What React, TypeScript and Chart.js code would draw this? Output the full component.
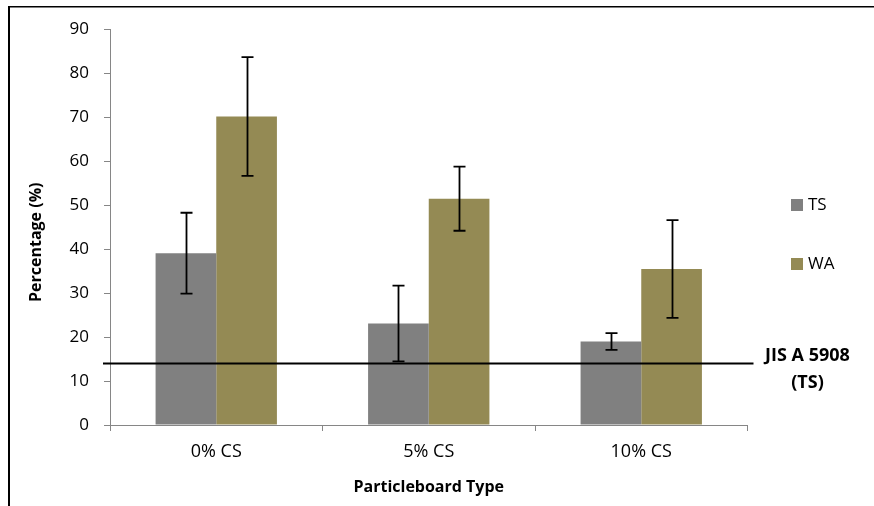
import React, { useEffect, useRef } from "react";
import { Chart, registerables } from "chart.js";

Chart.register(...registerables);

const categories = ["0% CS", "5% CS", "10% CS"];
const tsValues = [39.1, 23.1, 19.0];
const tsErrors = [9.2, 8.6, 1.9];
const waValues = [70.2, 51.5, 35.5];
const waErrors = [13.5, 7.3, 11.1];
const seriesNames = ["TS", "WA"];
const seriesColors = ["#808080", "#948A54"];
const standardValue = 14;
const standardLabel = ["JIS A 5908", "(TS)"];
const yTitle = "Percentage (%)";
const xTitle = "Particleboard Type";
const yMin = 0;
const yMax = 90;
const yStep = 10;

const FONT = "'Open Sans', 'DejaVu Sans', sans-serif";

const overlayPlugin = {
  id: "overlay",
  beforeDraw(chart: any) {
    const ctx = chart.ctx;
    ctx.save();
    ctx.fillStyle = "#ffffff";
    ctx.fillRect(0, 0, chart.width, chart.height);
    ctx.restore();
  },
  afterDatasetsDraw(chart: any) {
    const ctx = chart.ctx;
    const yScale = chart.scales.y;
    const errs = [tsErrors, waErrors];
    const vals = [tsValues, waValues];
    ctx.save();
    const ly = yScale.getPixelForValue(standardValue);
    ctx.strokeStyle = "#000000";
    ctx.lineWidth = 2;
    ctx.beginPath();
    ctx.moveTo(chart.chartArea.left - 7, ly);
    ctx.lineTo(chart.chartArea.right + 6, ly);
    ctx.stroke();
    ctx.lineWidth = 1.8;
    for (let d = 0; d < 2; d++) {
      const meta = chart.getDatasetMeta(d);
      meta.data.forEach((bar: any, i: number) => {
        const x = Math.round(bar.x) + 0.5;
        const yTop = yScale.getPixelForValue(vals[d][i] + errs[d][i]);
        const yBot = yScale.getPixelForValue(vals[d][i] - errs[d][i]);
        ctx.beginPath();
        ctx.moveTo(x, yTop);
        ctx.lineTo(x, yBot);
        ctx.moveTo(x - 6, yTop);
        ctx.lineTo(x + 6, yTop);
        ctx.moveTo(x - 6, yBot);
        ctx.lineTo(x + 6, yBot);
        ctx.stroke();
      });
    }
    ctx.restore();
  },
  afterDraw(chart: any) {
    const ctx = chart.ctx;
    const yScale = chart.scales.y;
    const area = chart.chartArea;
    ctx.save();
    ctx.fillStyle = "#000000";
    ctx.fillRect(8, 6, 2, chart.height - 6);
    ctx.fillRect(8, 6, chart.width - 8, 1.5);
    ctx.font = `bold 18px ${FONT}`;
    ctx.textAlign = "center";
    ctx.textBaseline = "middle";
    ctx.fillStyle = "#000000";
    const ly = yScale.getPixelForValue(standardValue);
    ctx.fillText(standardLabel[0], area.right + 60, ly - 8);
    ctx.fillText(standardLabel[1], area.right + 60, ly + 19);
    ctx.font = `17px ${FONT}`;
    ctx.textAlign = "left";
    const legendY = [205, 264];
    for (let i = 0; i < 2; i++) {
      ctx.fillStyle = seriesColors[i];
      ctx.fillRect(791, legendY[i] - 6, 12, 12);
      ctx.fillStyle = "#000000";
      ctx.fillText(seriesNames[i], 808, legendY[i]);
    }
    ctx.font = `bold 16px ${FONT}`;
    ctx.textAlign = "center";
    ctx.translate(36, (area.top + area.bottom) / 2 + 15);
    ctx.rotate(-Math.PI / 2);
    ctx.fillText(yTitle, 0, 0);
    ctx.restore();
  },
};

export default function App() {
  const canvasRef = useRef<HTMLCanvasElement | null>(null);

  useEffect(() => {
    if (!canvasRef.current) return;
    const chart = new Chart(canvasRef.current, {
      type: "bar",
      data: {
        labels: categories,
        datasets: [
          {
            label: seriesNames[0],
            data: tsValues,
            backgroundColor: seriesColors[0],
            borderWidth: 0,
            categoryPercentage: 0.571,
            barPercentage: 1,
          },
          {
            label: seriesNames[1],
            data: waValues,
            backgroundColor: seriesColors[1],
            borderWidth: 0,
            categoryPercentage: 0.571,
            barPercentage: 1,
          },
        ],
      },
      options: {
        responsive: false,
        animation: false,
        devicePixelRatio: 1,
        layout: { padding: { left: 0, top: 29.5, right: 126.5, bottom: 0 } },
        plugins: {
          legend: { display: false },
          tooltip: { enabled: false },
          title: { display: false },
        },
        scales: {
          x: {
            type: "category",
            offset: true,
            grid: {
              display: true,
              drawOnChartArea: false,
              drawTicks: true,
              tickLength: 6,
              color: "#868686",
              offset: true,
            },
            border: { color: "#868686", width: 1 },
            ticks: {
              color: "#000000",
              padding: 10,
              font: { family: FONT, size: 18 },
            },
            title: {
              display: true,
              text: xTitle,
              color: "#000000",
              font: { family: FONT, size: 16, weight: "bold" },
              padding: { top: 0, bottom: 9 },
            },
            afterFit: (s: any) => {
              s.height = 81;
            },
          },
          y: {
            min: yMin,
            max: yMax,
            ticks: {
              stepSize: yStep,
              color: "#000000",
              padding: 15,
              font: { family: FONT, size: 17 },
            },
            grid: {
              display: true,
              drawOnChartArea: false,
              drawTicks: true,
              tickLength: 6,
              color: "#868686",
            },
            border: { color: "#868686", width: 1 },
            afterFit: (s: any) => {
              s.width = 110;
            },
          },
        },
      },
      plugins: [overlayPlugin],
    });
    return () => chart.destroy();
  }, []);

  return (
    <div style={{ position: "absolute", left: 0, top: 0, width: 874, height: 506 }}>
      <canvas ref={canvasRef} width={874} height={506} style={{ width: 874, height: 506, display: "block" }} />
    </div>
  );
}
